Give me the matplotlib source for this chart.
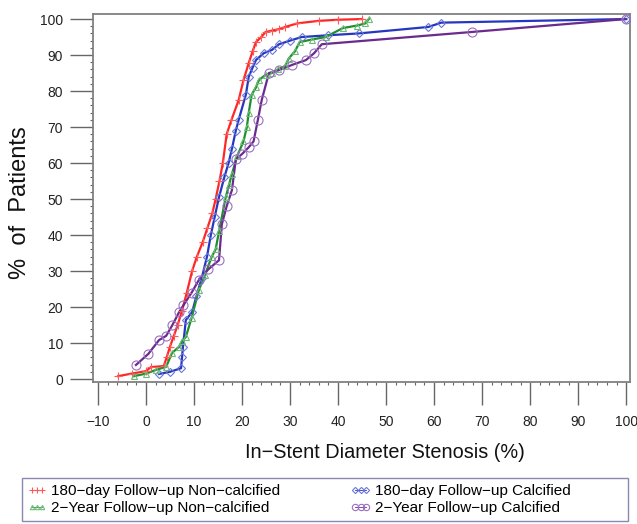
import matplotlib
matplotlib.use("Agg")
import matplotlib.pyplot as plt
from matplotlib.lines import Line2D
from matplotlib.patches import Rectangle
from matplotlib.ticker import MultipleLocator

plt.rcParams['font.family'] = ['Liberation Sans', 'DejaVu Sans']

# ---- data ----
red_x = [-5.8, -3, 0, 1, 3.7, 4.3, 5, 5.8, 6.6, 7.5, 8.5, 9.6, 10.6, 11.8, 12.8, 13.8, 14.5,
         15.3, 16, 16.8, 17.8, 19.3, 20.3, 21.4, 22.2, 22.9, 24, 24.9, 26.3, 27.7, 29, 31.5,
         36, 40, 45]
red_y = [0.8, 1.5, 2.2, 3.3, 3.6, 6, 9, 12, 15, 19, 24, 30, 34, 38, 42, 46, 50,
         55, 60, 68, 72, 77.5, 83, 87.8, 91, 93.6, 95, 96.4, 96.8, 97.2, 97.8, 98.8,
         99.5, 99.8, 100]

blue_x = [2.7, 5, 7.3, 7.5, 7.7, 8.3, 9.6, 10.5, 11.6, 12.7, 13.5, 14.3, 15.2, 16.3, 17.2,
          17.9, 18.7, 19.3, 20.8, 21.4, 22.2, 22.9, 24.5, 26.2, 27.7, 30, 32.4, 38, 44.3,
          58.8, 61.5, 100]
blue_y = [1.4, 2, 3, 6, 9, 16.4, 18.6, 23, 28, 34, 40, 45, 50.5, 56, 60,
          64, 69, 72, 79, 84, 86.5, 88.6, 90.5, 91.4, 93, 94, 95, 95.5, 96,
          97.8, 99, 100]

green_x = [-2.5, 0, 2, 4.2, 5.4, 6.9, 7.5, 8.3, 9.5, 11, 12.3, 13.7, 14.5, 15.2, 16.6, 17.3,
           17.9, 19, 20.3, 21, 21.4, 22, 22.9, 23.5, 24.9, 26.2, 27.5, 29, 29.7, 31, 32,
           34.5, 37.4, 41, 44, 45.7, 46.4]
green_y = [0.8, 1.5, 2.5, 3.4, 7.2, 9, 10.5, 11.7, 17, 24.7, 29, 34, 36, 41, 50.5, 54,
           57, 62, 66, 70, 74, 79, 81, 83, 84.5, 85, 86, 87, 89, 91, 93.6,
           94.3, 95, 97.5, 98.2, 98.8, 100]

purple_x = [-2.1, 0.5, 2.7, 4.2, 5.5, 6.9, 7.8, 9.5, 11, 13, 15.2, 15.8, 16.8, 17.9, 18.7,
            20, 21.4, 22.4, 23.3, 24.1, 25.6, 27.7, 30.5, 33.3, 35, 36.6, 67.8, 100]
purple_y = [3.9, 7, 10.8, 12, 15, 18.6, 20.5, 24, 27.5, 30.5, 33, 43, 48, 52.5, 61,
            62.5, 64.4, 66, 72, 77.5, 85, 85.8, 87.3, 88.6, 90.5, 93, 96.4, 100]

labels = ["180\u2212day Follow\u2212up Non\u2212calcified",
          "180\u2212day Follow\u2212up Calcified",
          "2\u2212Year Follow\u2212up Non\u2212calcified",
          "2\u2212Year Follow\u2212up Calcified"]

x_ticks = [-10, 0, 10, 20, 30, 40, 50, 60, 70, 80, 90, 100]
y_ticks = [0, 10, 20, 30, 40, 50, 60, 70, 80, 90, 100]

# ---- styling ----
RED, BLUE, GREEN, PURPLE = '#ff2626', '#2536c0', '#1f8f2f', '#6a2a8e'
series = [
    (red_x, red_y, RED, '+', 6, '#ff5a5a'),
    (blue_x, blue_y, BLUE, 'D', 4.5, '#6b78d6'),
    (green_x, green_y, GREEN, '^', 4.5, '#6fbb78'),
    (purple_x, purple_y, PURPLE, 'o', 6.5, '#9a70c0'),
]

fig = plt.figure(figsize=(6.37, 5.24), dpi=100)
ax = fig.add_axes([93/637, 142/524, (630-93)/637, (510-142)/524])

handles = []
for (xs, ys, c, m, ms, mc), lab in zip(series, labels):
    ax.plot(xs, ys, color=c, lw=1.6, zorder=3)
    ax.plot(xs, ys, ls='none', marker=m, ms=ms, mfc='none', mec=mc, mew=0.8, zorder=4)
    handles.append(Line2D([], [], color=c, lw=0.6, marker=m, ms=ms*0.7,
                          mfc='none', mec=mc, mew=0.8))

ax.set_xlim(-11.04, 100.8)
ax.set_ylim(-0.83, 101.4)
ax.set_xticks(x_ticks)
ax.set_yticks(y_ticks)
ax.xaxis.set_minor_locator(MultipleLocator(2))
ax.yaxis.set_minor_locator(MultipleLocator(2))
ax.tick_params(axis='both', which='major', direction='out', length=16.5, width=1.0,
               color='#666666', labelsize=10, labelcolor='#222222', pad=5)
ax.tick_params(axis='x', which='major', pad=7)
ax.tick_params(axis='both', which='minor', direction='out', length=2.5, width=0.8,
               color='#666666')
for s in ax.spines.values():
    s.set_color('#808080')
    s.set_linewidth(1.3)

fig.text(20/637, 1 - 203/524, "%  of  Patients", rotation=90, ha='center', va='center',
         fontsize=17, color='#111111')
fig.text(385/637, 1 - 452/524, "In\u2212Stent Diameter Stenosis (%)", ha='center',
         va='center', fontsize=14.3, color='#111111')

# legend frame drawn separately so the columns can sit where the reference has them
fig.patches.append(Rectangle((22/637, 3/524), (628-22)/637, 43/524, transform=fig.transFigure,
                             fill=False, edgecolor='#8a88b0', lw=1.0))
order = [0, 2, 1, 3]
leg = fig.legend([handles[i] for i in order], [labels[i] for i in order],
                 loc='upper left', bbox_to_anchor=(27/637, 1 - 484/524),
                 ncol=2, fontsize=11, frameon=False,
                 numpoints=3, handlelength=1.3, handletextpad=0.3, borderaxespad=0,
                 labelspacing=0.2, borderpad=0, columnspacing=4.6)

fig.savefig("out.png", dpi=100)
